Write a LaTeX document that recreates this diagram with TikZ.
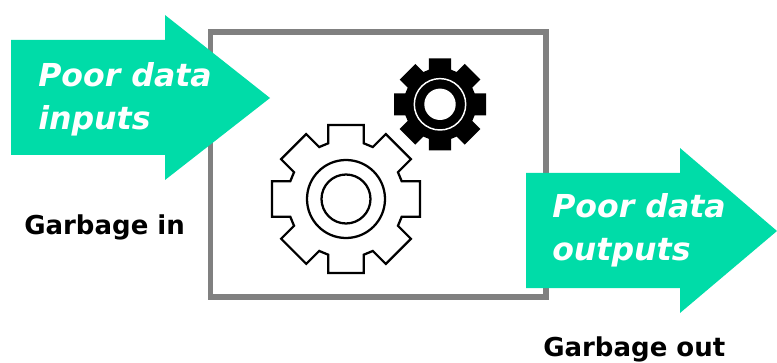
\documentclass[tikz,border=0pt]{standalone}
\usepackage{fontspec}
\setmainfont{DejaVu Sans}
\definecolor{arrowgreen}{HTML}{00DCA8}
\definecolor{boxgray}{HTML}{808080}
\tikzset{
  flowarrow/.style={fill=arrowgreen,draw=none},
  arrowtext/.style={text=white,inner sep=0pt,align=left,anchor=west,font=\fontsize{23.7}{32.2}\selectfont\bfseries\itshape},
  caption/.style={text=black,inner sep=0pt,anchor=base west,font=\fontsize{19.5}{22}\selectfont\bfseries},
  gearline/.style={draw=black,line width=1.7pt,fill=none,line join=miter},
}
\newcommand{\gearpath}[4]{% centre x, centre y, outer, root (half tooth = #3*.24)
  (#1,#2) ++(-0.24*#3,-#3)
  \foreach \a in {0,45,...,315}{
    -- ([shift={(#1,#2)},rotate=-\a]0.24*#3,-#3)
    -- ([shift={(#1,#2)},rotate=-\a]0.24*#3,-#4)
    -- ([shift={(#1,#2)},rotate=-\a-45]-0.24*#3,-#4)
    -- ([shift={(#1,#2)},rotate=-\a-45]-0.24*#3,-#3)
  } -- cycle}
\begin{document}
\begin{tikzpicture}[x=0.75pt,y=-0.75pt]
\useasboundingbox (0,0) rectangle (777,363);
% frame
\draw[boxgray,line width=4.4pt,line join=miter] (210.5,32) rectangle (546,297);
% large gear
\draw[gearline] \gearpath{346}{199}{74}{55.7};
\draw[gearline] (346,199) circle[radius=39];
\draw[gearline] (346,199) circle[radius=24.5];
% small gear
\fill[black] \gearpath{440}{104.3}{46}{34.6};
\draw[white,line width=1.1pt] (440,104.3) circle[radius=25.7];
\fill[white] (440,104.3) circle[radius=15.7];
% arrows
\fill[flowarrow] (11,40) -- (165,40) -- (165,15) -- (270,98) -- (165,180) -- (165,155) -- (11,155) -- cycle;
\fill[flowarrow] (526,173) -- (680,173) -- (680,148) -- (777,231) -- (680,313) -- (680,288) -- (526,288) -- cycle;
% labels
\node[arrowtext] (inlabel) at (38,99) {Poor data\\inputs};
\node[arrowtext] (outlabel) at (552,230.5) {Poor data\\outputs};
\node[caption] (garbagein) at (24,234) {Garbage in};
\node[caption] (garbageout) at (543,356.5) {Garbage out};
\end{tikzpicture}
\end{document}
